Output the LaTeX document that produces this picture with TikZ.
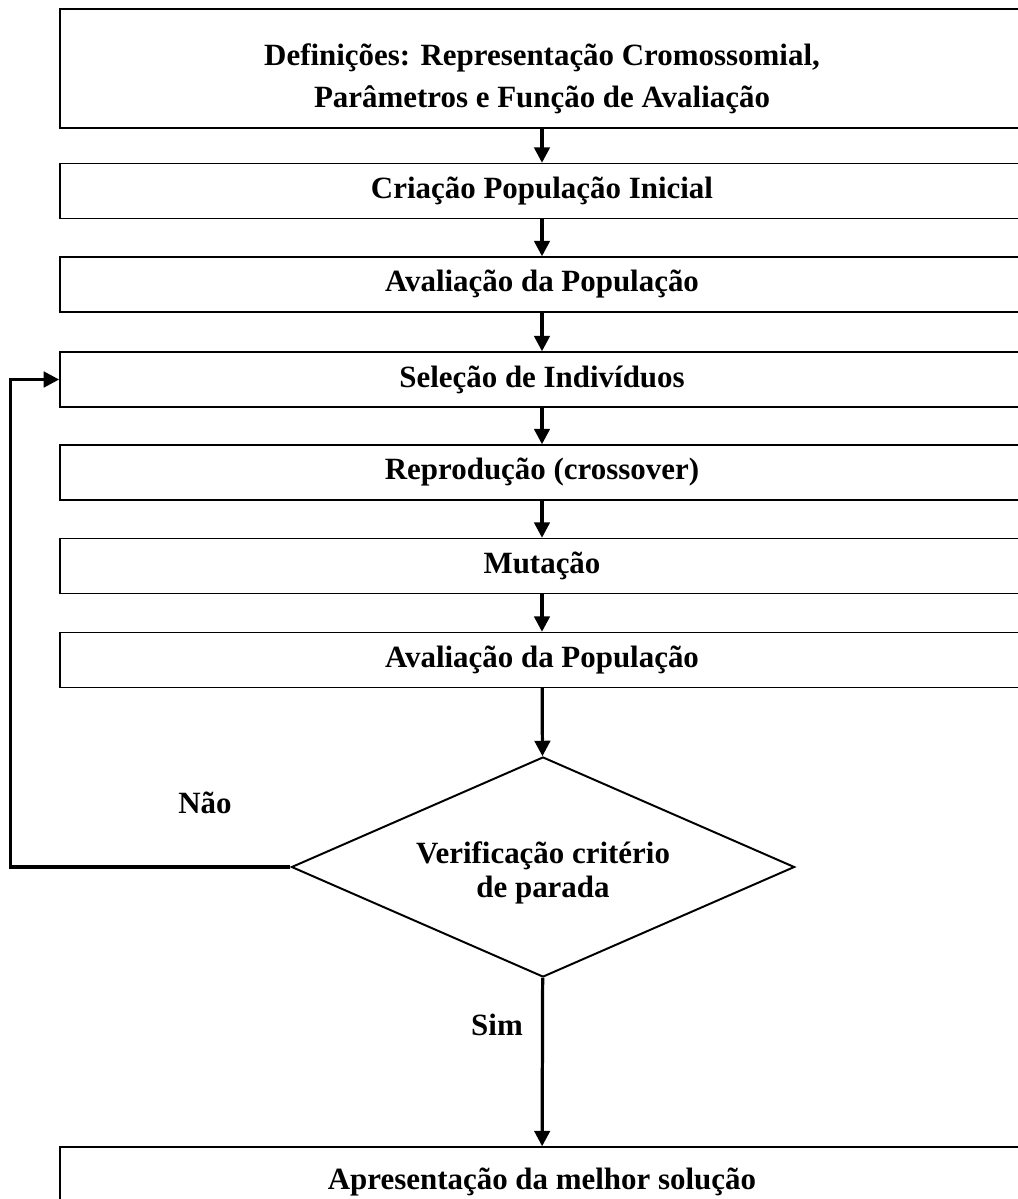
\documentclass[tikz,border=0pt]{standalone}
\usepackage{fontspec}
\setmainfont{Liberation Serif}
\usetikzlibrary{shapes.geometric,arrows.meta}

\begin{document}
\begin{tikzpicture}[x=0.025cm,y=-0.025cm,>={Triangle[length=11pt,width=11pt]},
  font=\fontsize{22}{24}\selectfont\bfseries,
  etapa/.style={draw,line width=1pt,minimum width=24.1cm,minimum height=1.375cm,inner sep=0pt},
  decisao/.style={draw,diamond,aspect=2.3,line width=1.4pt,minimum width=12.575cm,minimum height=5.5cm,inner sep=0pt,align=center},
  fluxo/.style={->,line width=2.3pt}]
\path[use as bounding box,clip] (0,0) rectangle (1018,1199);
\node[etapa,minimum height=2.975cm,align=center,font=\fontsize{22}{30}\selectfont\bfseries] (def) at (542,68.5) {\rule{0pt}{30pt}Definições: Representação Cromossomial,\\Parâmetros e Função de Avaliação};
\node[etapa] (cria) at (542,191) {Criação População Inicial};
\node[etapa] (aval1) at (542,284.5) {Avaliação da População};
\node[etapa] (sel) at (542,379.5) {Seleção de Indivíduos};
\node[etapa] (rep) at (542,472.5) {Reprodução (crossover)};
\node[etapa] (mut) at (542,566) {Mutação};
\node[etapa] (aval2) at (542,660) {Avaliação da População};
\node[decisao] (crit) at (543,867) {\rule{0pt}{24pt}Verificação critério\\de parada};
\node[etapa,minimum height=1.75cm] (sol) at (542,1182) {Apresentação da melhor solução};
\node (nao) at (205,803) {Não};
\node (sim) at (497,1025) {Sim};
\draw[fluxo] (def) -- (cria);
\draw[fluxo] (cria) -- (aval1);
\draw[fluxo] (aval1) -- (sel);
\draw[fluxo] (sel) -- (rep);
\draw[fluxo] (rep) -- (mut);
\draw[fluxo] (mut) -- (aval2);
\draw[fluxo] (aval2) -- (crit);
\draw[fluxo] (crit.west) -- ++(-280,0) |- (sel.west);
\draw[fluxo] (crit) -- (sol);
\end{tikzpicture}
\end{document}
